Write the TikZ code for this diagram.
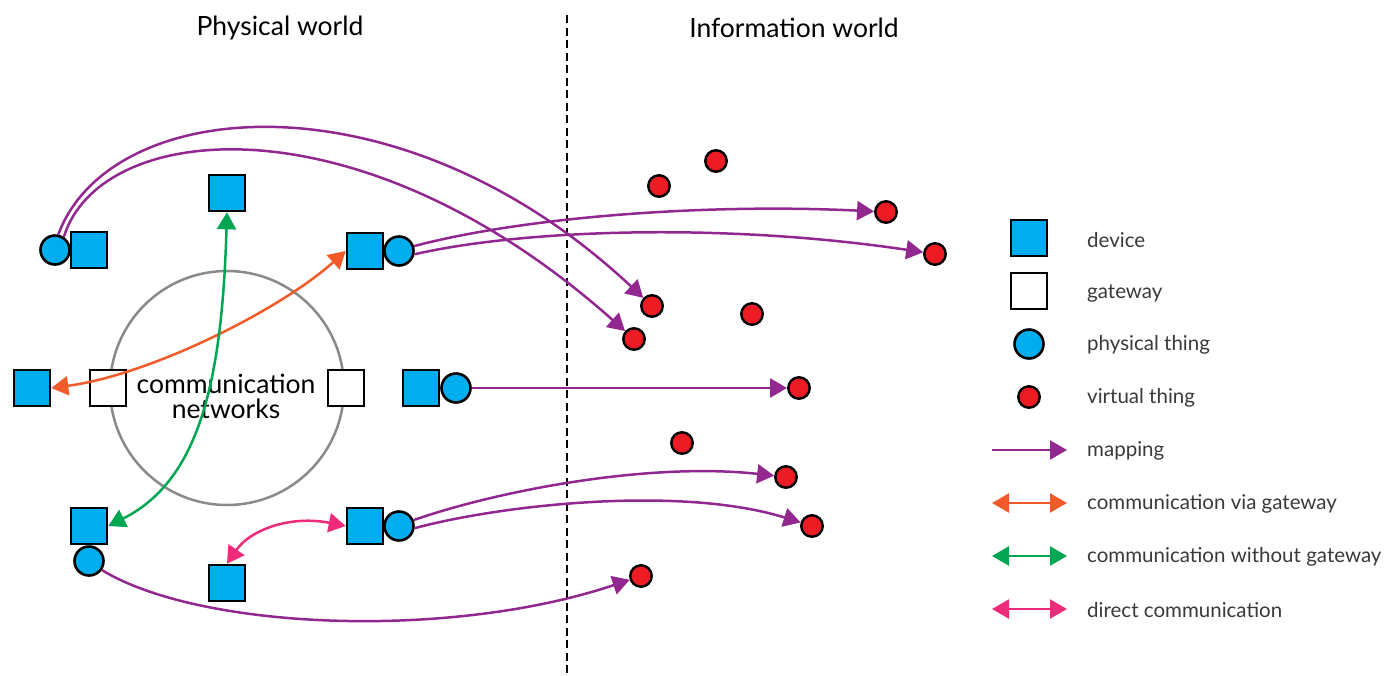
\documentclass[tikz,border=0pt]{standalone}
\usepackage{fontspec}
\setmainfont{Lato}
\usetikzlibrary{arrows.meta}
\definecolor{devblue}{HTML}{00AEEF}
\definecolor{vred}{HTML}{ED1C24}
\definecolor{mpurple}{HTML}{92278F}
\definecolor{corange}{HTML}{F15A29}
\definecolor{cgreen}{HTML}{00A651}
\definecolor{cpink}{HTML}{EE2A7B}
\definecolor{netgray}{HTML}{8A8A8A}
\definecolor{txtgray}{HTML}{3A3A3A}
\tikzset{
  dev/.style={rectangle, draw=black, line width=2.6pt, fill=devblue, minimum size=36pt, inner sep=0pt},
  gw/.style={rectangle, draw=black, line width=2.6pt, fill=white, minimum size=36pt, inner sep=0pt},
  pt/.style={circle, draw=black, line width=2.6pt, fill=devblue, minimum size=29pt, inner sep=0pt},
  vt/.style={circle, draw=black, line width=2.4pt, fill=vred, minimum size=21.5pt, inner sep=0pt},
  tip/.tip={Triangle[length=17pt,width=19pt]},
  map/.style={draw=mpurple, line width=2.5pt, -tip},
  cvia/.style={draw=corange, line width=2.5pt, tip-tip},
  cwo/.style={draw=cgreen, line width=2.5pt, tip-tip},
  cdir/.style={draw=cpink, line width=2.5pt, tip-tip},
  title/.style={font=\fontsize{26.5}{30}\selectfont, text=black},
  leg/.style={font=\fontsize{20.5}{24}\selectfont, text=txtgray, anchor=west, inner sep=0pt},
}
\begin{document}
\begin{tikzpicture}[x=1pt,y=-1pt]
\useasboundingbox[fill=white] (0,0) rectangle (1384,675);
% titles
\node[title] (tphys) at (280,28) {Physical world};
\node[title] (tinfo) at (794,28) {Information world};
% divider
\coordinate (dtop) at (567,15);
\coordinate (dbot) at (567,675);
\draw[line width=2.5pt, dash pattern=on 8pt off 4.5pt] (dtop) -- (dbot);
% network
\node[circle, draw=netgray, line width=2.5pt, minimum size=234pt, inner sep=0pt] (net) at (227,388) {};
\node[font=\fontsize{26.5}{25}\selectfont, align=center, text=black, inner sep=0pt] (nettxt) at (226,396) {communication\\networks};
% physical devices
\node[pt] (p1) at (55,250) {};
\node[dev] (d1) at (89,250) {};
\node[dev] (d2) at (227,193) {};
\node[dev] (d3) at (365,251) {};
\node[pt] (p3) at (399,251) {};
\node[dev] (d4) at (32,388) {};
\node[gw] (g1) at (108,388) {};
\node[gw] (g2) at (346,388) {};
\node[dev] (d5) at (421,388) {};
\node[pt] (p5) at (456,388) {};
\node[dev] (d6) at (89,526) {};
\node[pt] (p6) at (89,561) {};
\node[dev] (d7) at (227,583) {};
\node[dev] (d8) at (365,526) {};
\node[pt] (p8) at (399,526) {};
% virtual things
\node[vt] (v1) at (659,186) {};
\node[vt] (v2) at (716,161) {};
\node[vt] (v3) at (886,212) {};
\node[vt] (v4) at (935,254) {};
\node[vt] (v5) at (652,306) {};
\node[vt] (v6) at (634,339) {};
\node[vt] (v7) at (752,314) {};
\node[vt] (v8) at (799,388) {};
\node[vt] (v9) at (682,443) {};
\node[vt] (v10) at (786,477) {};
\node[vt] (v11) at (812,526) {};
\node[vt] (v12) at (641,576) {};
% mappings
\draw[map] (p1.78) .. controls (110,95) and (400,70) .. (v5);
\draw[map] (p1.56) .. controls (100,120) and (360,95) .. (v6);
\draw[map] (p3.18) .. controls (520,218) and (700,203) .. (v3);
\draw[map] (p3.-12) .. controls (520,230) and (720,222) .. (v4);
\draw[map] (p5.east) -- (v8);
\draw[map] (p8.22) .. controls (500,490) and (650,462) .. (v10);
\draw[map] (p8.-8) .. controls (500,505) and (680,485) .. (v11);
\draw[map] (p6.-35) .. controls (200,630) and (450,640) .. (v12);
% communications
\draw[cvia] (d4.east) .. controls (150,375) and (280,310) .. (d3.west);
\draw[cwo] (d2.south) .. controls (222,380) and (200,480) .. (d6.east);
\draw[cdir] (d7.north) .. controls (250,530) and (290,515) .. (d8.west);
% legend
\node[dev] (ld) at (1029,238) {};
\node[gw] (lg) at (1029,291) {};
\node[pt] (lp) at (1029,344) {};
\node[vt] (lv) at (1029,397) {};
\coordinate (la1) at (992,450); \coordinate (lb1) at (1067,450);
\coordinate (la2) at (992,503); \coordinate (lb2) at (1067,503);
\coordinate (la3) at (992,556); \coordinate (lb3) at (1067,556);
\coordinate (la4) at (992,609); \coordinate (lb4) at (1067,609);
\draw[map] (la1) -- (lb1);
\draw[cvia] (la2) -- (lb2);
\draw[cwo] (la3) -- (lb3);
\draw[cdir] (la4) -- (lb4);
\node[leg] (t1) at (1087,240) {device};
\node[leg] (t2) at (1087,293) {gateway};
\node[leg] (t3) at (1087,345) {physical thing};
\node[leg] (t4) at (1087,398) {virtual thing};
\node[leg] (t5) at (1087,451) {mapping};
\node[leg] (t6) at (1087,504) {communication via gateway};
\node[leg] (t7) at (1087,557) {communication without gateway};
\node[leg] (t8) at (1087,610) {direct communication};
\end{tikzpicture}
\end{document}
